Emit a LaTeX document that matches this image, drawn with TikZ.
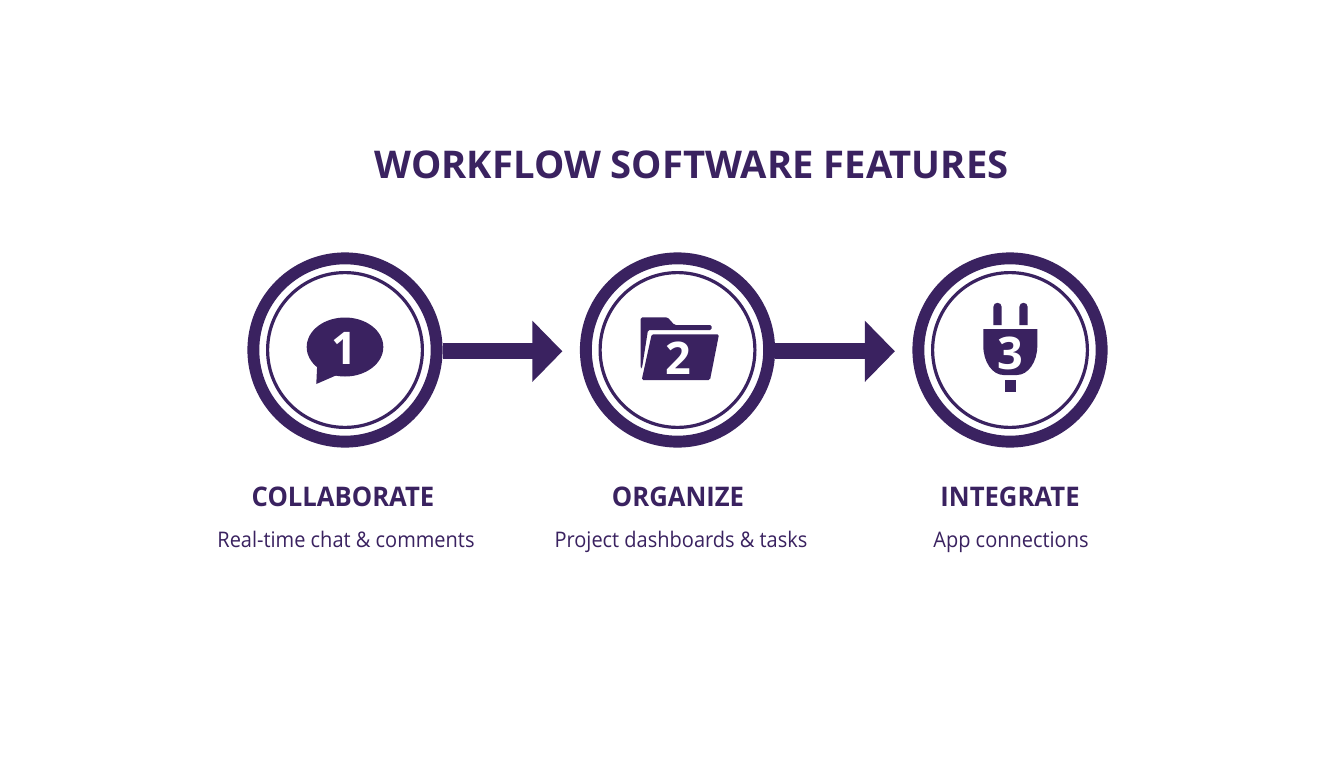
\documentclass[tikz,border=0pt]{standalone}
\usepackage{fontspec}
\setmainfont{Open Sans}
\newfontfamily\headfam[FakeStretch=0.95]{Open Sans}
\newfontfamily\subfam[FakeStretch=0.93]{Open Sans}
\usetikzlibrary{arrows.meta}
\definecolor{plum}{HTML}{3A2260}
\tikzset{
  outerring/.style={circle,draw=plum,line width=11.9pt,minimum size=183.3pt,inner sep=0pt,fill=white},
  innerring/.style={circle,draw=plum,line width=3.2pt,minimum size=154.8pt,inner sep=0pt},
  flow/.style={draw=plum,line width=16pt,-{Triangle[length=30pt,width=59.3pt,color=plum]},shorten >=17.5pt},
  icon/.style={fill=plum,draw=none},
  digit/.style={text=white,font=\bfseries\fontsize{45}{45}\selectfont,inner sep=0pt},
  titletext/.style={text=plum,font=\bfseries\fontsize{38.2}{42}\selectfont,inner sep=0pt,anchor=base},
  headtext/.style={text=plum,font=\headfam\bfseries\fontsize{27}{30}\selectfont,inner sep=0pt,anchor=base},
  subtext/.style={text=plum,font=\subfam\fontsize{21.5}{24}\selectfont,inner sep=0pt,anchor=base}
}
\begin{document}
\begin{tikzpicture}[x=1pt,y=-1pt]
\useasboundingbox (0,0) rectangle (1344,768);
\fill[white] (0,0) rectangle (1344,768);

\node[titletext] (title) at (691.5,178.5) {WORKFLOW SOFTWARE FEATURES};

\node[outerring] (c1) at (345,350) {};
\node[outerring] (c2) at (677.5,350) {};
\node[outerring] (c3) at (1010,350) {};
\node[innerring] (r1) at (c1) {};
\node[innerring] (r2) at (c2) {};
\node[innerring] (r3) at (c3) {};

\draw[flow] ([yshift=-1.3pt]c1.east) -- ([yshift=-1.3pt]c2.west);
\draw[flow] ([yshift=-1.3pt]c2.east) -- ([yshift=-1.3pt]c3.west);

% speech bubble
\fill[icon] (345,347) ellipse [x radius=38.3, y radius=29.5];
\fill[icon] (317.3,362) -- (316.3,384) -- (337,375) -- cycle;
\node[digit] (d1) at (344,348.7) {1};

% folder
\fill[icon,rounded corners=1.5pt] (640.7,368) -- (640.7,317.3) -- (667.5,317.3) -- (674.5,325) -- (711.7,325) -- (711.7,330) -- (648,330) -- (642,368) -- cycle;
\fill[icon,rounded corners=1.5pt] (651.7,334.3) -- (719,334.3) -- (710,380) -- (641.7,380) -- cycle;
\node[digit] (d2) at (678,358) {2};

% plug
\fill[icon] (993.3,325) -- (993.3,307) .. controls (993.3,301.4) and (1001.7,301.4) .. (1001.7,307) -- (1001.7,325) -- cycle;
\fill[icon] (1019.3,325) -- (1019.3,307) .. controls (1019.3,301.4) and (1027.7,301.4) .. (1027.7,307) -- (1027.7,325) -- cycle;
\fill[icon] (983.3,329) -- (1037.3,329) -- (1037.3,346) .. controls (1037.3,362) and (1028,375) .. (1017,375) -- (1003.5,375) .. controls (992.5,375) and (983.3,362) .. (983.3,346) -- cycle;
\fill[icon] (1005.3,380) rectangle (1016,391.7);
\node[digit] (d3) at (1010,353.5) {3};

\node[headtext] (h1) at (343,506.5) {COLLABORATE};
\node[headtext] (h2) at (678,506.5) {ORGANIZE};
\node[headtext] (h3) at (1010,506.5) {INTEGRATE};
\node[subtext] (s1) at (346,547.5) {Real-time chat \& comments};
\node[subtext] (s2) at (681,547.5) {Project dashboards \& tasks};
\node[subtext] (s3) at (1011,547.5) {App connections};
\end{tikzpicture}
\end{document}
